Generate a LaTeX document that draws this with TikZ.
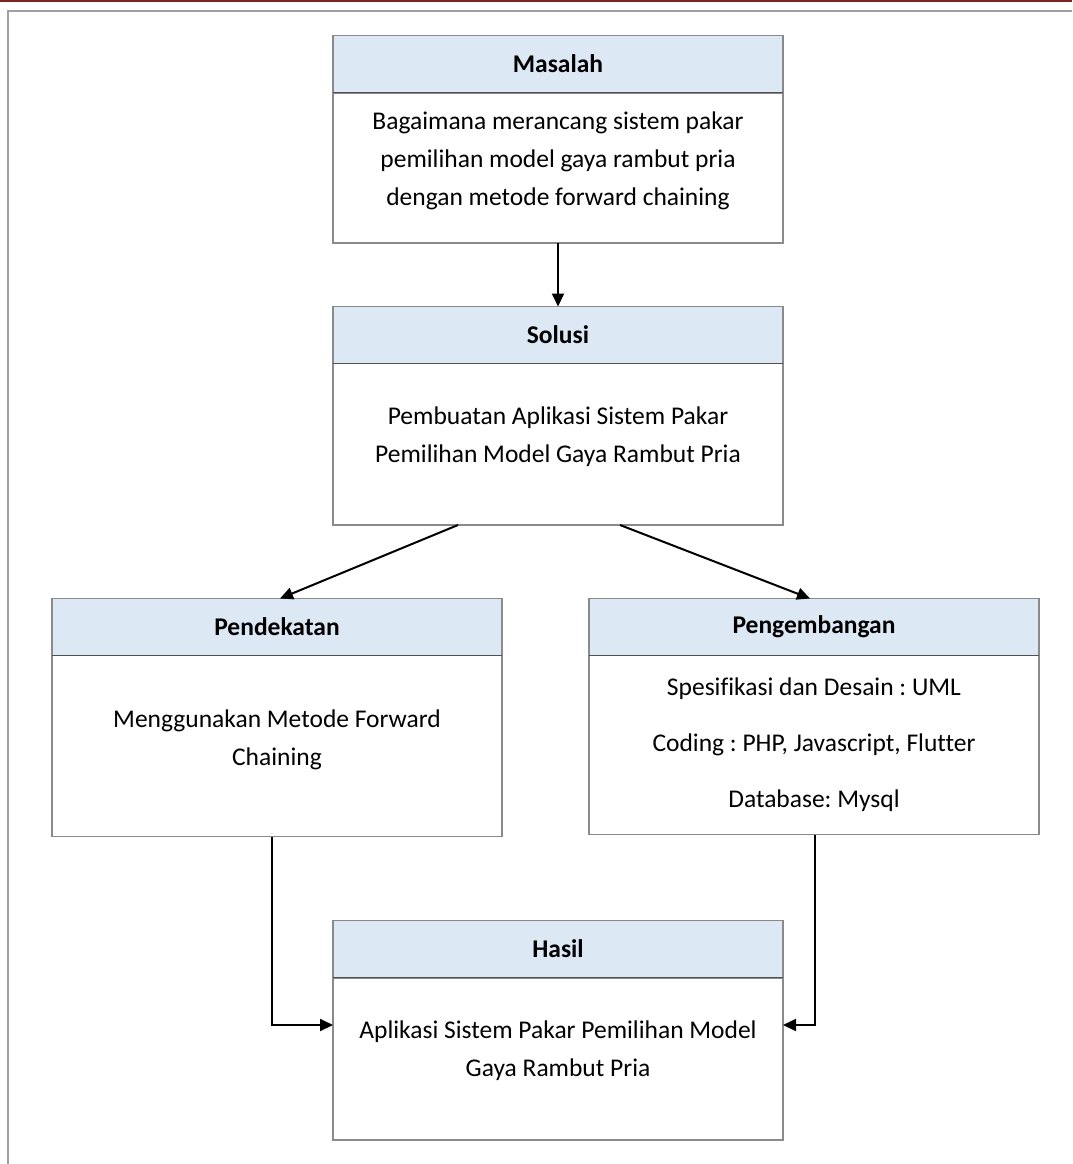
\documentclass[tikz,border=0pt]{standalone}
\usepackage{fontspec}
\setmainfont[Ligatures=NoCommon]{Carlito}
\usetikzlibrary{arrows.meta,calc}
\definecolor{headfill}{HTML}{DDE8F5}
\definecolor{boxline}{HTML}{8A8A8A}
\definecolor{sepline}{HTML}{505050}
\definecolor{frameline}{HTML}{A0A0A0}
\definecolor{topline}{HTML}{7A2424}
\frenchspacing
\begin{document}
\begin{tikzpicture}[x=1pt,y=-1pt,
  head/.style={draw=boxline,line width=1.8pt,fill=headfill,minimum width=450pt,minimum height=57pt,inner sep=0pt,outer sep=0pt,font=\fontsize{25.5}{30}\selectfont\bfseries},
  body/.style={draw=boxline,line width=1.8pt,fill=white,minimum width=450pt,inner sep=0pt,outer sep=0pt},
  txt/.style={align=center,inner sep=0pt,font=\fontsize{25.5}{38}\selectfont},
  link/.style={line width=2pt,-{Triangle[length=13pt,width=12pt]}}]
\useasboundingbox (0,0) rectangle (1072,1164);
% page rules
\draw[topline,line width=2pt] (0,1) -- (1072,1);
\draw[frameline,line width=1.6pt] (8,1164) -- (8,11) -- (1072,11);

% Masalah
\node[body,minimum height=150pt] (masb) at (558,168) {};
\node[head] (mash) at (558,64) {Masalah};
\draw[sepline,line width=1.6pt] (mash.south west) -- (mash.south east);
\node[txt] (mast) at (558,161) {Bagaimana merancang sistem pakar\\pemilihan model gaya rambut pria\\dengan metode forward chaining};

% Solusi
\node[body,minimum height=162pt] (solb) at (558,444) {};
\node[head] (solh) at (558,335) {Solusi};
\draw[sepline,line width=1.6pt] (solh.south west) -- (solh.south east);
\node[txt] (solt) at (558,437) {Pembuatan Aplikasi Sistem Pakar\\Pemilihan Model Gaya Rambut Pria};

% Pendekatan
\node[body,minimum height=181pt] (penb) at (277,746) {};
\node[head] (penh) at (277,627) {Pendekatan};
\draw[sepline,line width=1.6pt] (penh.south west) -- (penh.south east);
\node[txt] (pent) at (277,740) {Menggunakan Metode Forward\\Chaining};

% Pengembangan
\node[body,minimum height=179pt] (pgb) at (814,745) {};
\node[head] (pgh) at (814,627) {Pengembangan};
\draw[sepline,line width=1.6pt] (pgh.south west) -- (pgh.south east);
\node[txt,font=\fontsize{25.5}{56}\selectfont] (pgt) at (814,745) {Spesifikasi dan Desain : UML\\Coding : PHP, Javascript, Flutter\\Database: Mysql};

% Hasil
\node[body,minimum height=162pt] (hasb) at (558,1059) {};
\node[head] (hash) at (558,949) {Hasil};
\draw[sepline,line width=1.6pt] (hash.south west) -- (hash.south east);
\node[txt] (hast) at (558,1051) {Aplikasi Sistem Pakar Pemilihan Model\\Gaya Rambut Pria};

% connectors
\draw[link] (masb.south) -- (solh.north);
\draw[link] ($(solb.south)+(-100,0)$) -- ($(penh.north)+(3,0)$);
\draw[link] ($(solb.south)+(62,0)$) -- ($(pgh.north)+(-4,0)$);
\coordinate (hin) at ($(hasb.north west)+(0,47)$);
\coordinate (hout) at ($(hasb.north east)+(0,47)$);
\draw[link] ($(penb.south)+(-5,0)$) |- (hin);
\draw[link] ($(pgb.south)+(1,0)$) |- (hout);
\end{tikzpicture}
\end{document}
